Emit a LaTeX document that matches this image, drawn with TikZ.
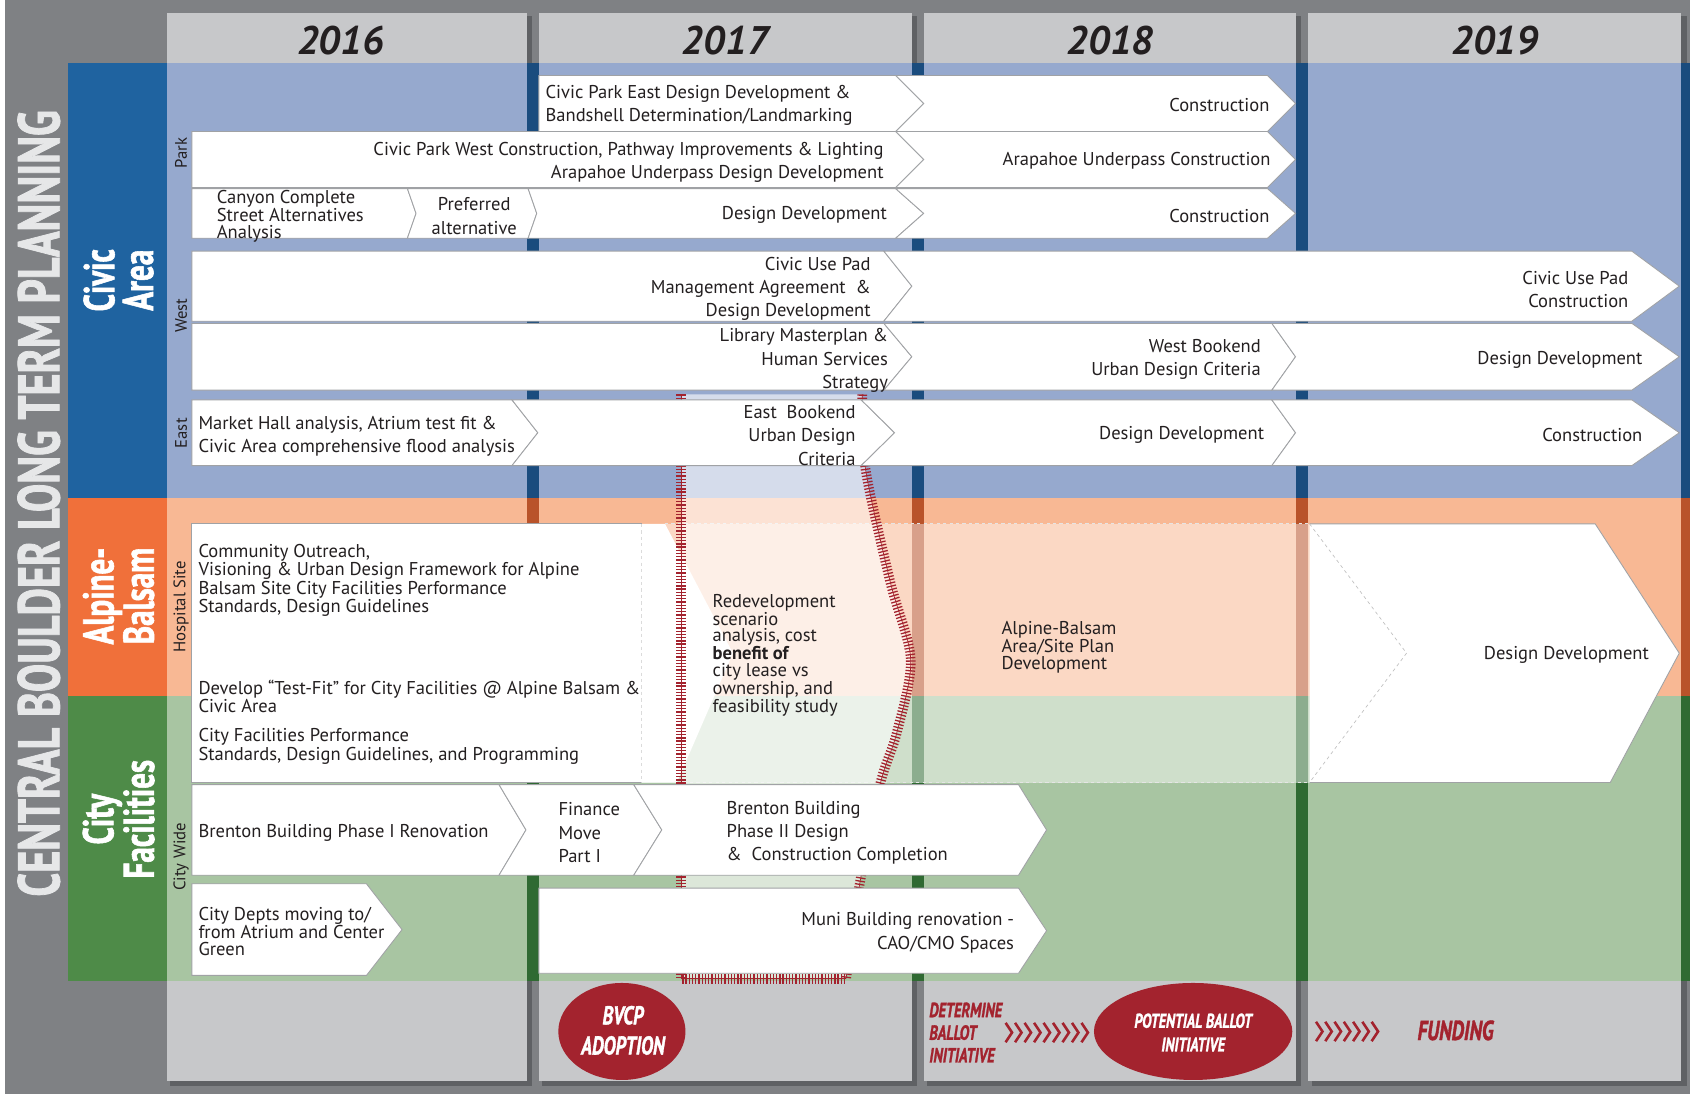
\documentclass[tikz,border=0pt]{standalone}
\usepackage{graphicx}
\usepackage{fontspec}
\setmainfont{PT Sans}
\newfontfamily\heavyfont{PT Sans}[UprightFont={* Bold}, ItalicFont={* Bold Italic}, FakeStretch=0.72, FakeBold=1.3]

\definecolor{outergray}{HTML}{7F8184}
\definecolor{shadowgray}{HTML}{5F6164}
\definecolor{headgray}{HTML}{C7C8CA}
\definecolor{civicdark}{HTML}{1F63A0}
\definecolor{civictint}{HTML}{96A9CE}
\definecolor{civicbar}{HTML}{1A4C7E}
\definecolor{alpdark}{HTML}{F0703A}
\definecolor{alptint}{HTML}{F8B894}
\definecolor{alpbar}{HTML}{B9532A}
\definecolor{citydark}{HTML}{4E8B48}
\definecolor{citytint}{HTML}{A8C5A2}
\definecolor{citybar}{HTML}{2F6A32}
\definecolor{trackred}{HTML}{A3232E}
\definecolor{boxedge}{HTML}{A0A2A5}
\definecolor{ink}{HTML}{231F20}
\definecolor{titlegray}{HTML}{E6E7E8}

\tikzset{
  boxline/.style={fill=white, draw=boxedge, line width=0.8pt, line join=miter},
  txt/.style={text=ink, font=\fontsize{17.2}{21.5}\selectfont, inner sep=0pt, yshift=-1.5pt},
  tight/.style={text=ink, font=\fontsize{17.2}{15.5}\selectfont, inner sep=0pt, align=left, yshift=-1.5pt},
  sublabel/.style={rotate=90, text=ink, font=\fontsize{15.5}{16}\selectfont, inner sep=0pt},
  region/.style={rotate=90, text=white, font=\heavyfont\fontsize{40}{36}\selectfont, align=center, inner sep=0pt},
  year/.style={text=ink, font=\bfseries\itshape\fontsize{37}{40}\selectfont, inner sep=0pt},
  foot/.style={text=trackred, font=\heavyfont\itshape\fontsize{19}{21}\selectfont, inner sep=0pt, align=left},
  ovaltext/.style={text=white, inner sep=0pt, align=center},
  trackticks/.style={draw=trackred, line width=9pt, dash pattern=on 1.2pt off 1.8pt},
  trackrail/.style={draw=trackred, line width=0.6pt},
  chevmark/.style={draw=trackred, line width=2.4pt}
}

% arrow-shaped bar with a flat left end
\newcommand{\flatbox}[5]{%
  \pgfmathsetmacro\boxmid{(#3+#4)/2}%
  \pgfmathsetmacro\boxtip{#2+#5}%
  \filldraw[boxline] (#1,#3) -- (#2,#3) -- (\boxtip,\boxmid) -- (#2,#4) -- (#1,#4) -- cycle;}
% arrow-shaped bar with a notched left end
\newcommand{\notchbox}[6]{%
  \pgfmathsetmacro\boxmid{(#3+#4)/2}%
  \pgfmathsetmacro\boxtip{#2+#6}%
  \pgfmathsetmacro\boxnotch{#1+#5}%
  \filldraw[boxline] (#1,#3) -- (#2,#3) -- (\boxtip,\boxmid) -- (#2,#4) -- (#1,#4) -- (\boxnotch,\boxmid) -- cycle;}

\begin{document}
\begin{tikzpicture}[x=1pt,y=-1pt]
\useasboundingbox (0,0) rectangle (1568,1015);
\fill[white] (0,0) rectangle (1568,1015);
\fill[outergray] (5,0) rectangle (1568,1015);

% year columns
\foreach \a/\b in {155/489, 500/846, 857/1202, 1214/1560} {
  \fill[shadowgray] (\a+3,15) rectangle (\b+5,1008);
  \fill[headgray] (\a,12) rectangle (\b,1003);
}

% topic bands
\fill[civictint] (155,58) rectangle (1568,462);
\fill[alptint] (155,462) rectangle (1568,646);
\fill[citytint] (155,646) rectangle (1568,910);
\foreach \a/\b in {489/500, 846/857, 1202/1214, 1560/1568} {
  \fill[civicbar] (\a,58) rectangle (\b,462);
  \fill[alpbar] (\a,462) rectangle (\b,646);
  \fill[citybar] (\a,646) rectangle (\b,910);
}
\fill[civicdark] (63,58) rectangle (155,462);
\fill[alpdark] (63,462) rectangle (155,646);
\fill[citydark] (63,646) rectangle (155,910);

% headings
\node[rotate=90, text=titlegray, font=\heavyfont\fontsize{54.5}{55}\selectfont, inner sep=0pt] (title) at (36,467) {CENTRAL BOULDER LONG TERM PLANNING};
\node[region] (civic) at (110,260) {Civic\\Area};
\node[region] (alpine) at (110,553) {Alpine-\\Balsam};
\node[region] (cityfac) at (110,760) {City\\Facilities};
\node[year] (y16) at (316,38) {2016};
\node[year] (y17) at (673,38) {2017};
\node[year] (y18) at (1030,38) {2018};
\node[year] (y19) at (1387,38) {2019};
\node[sublabel] (park) at (168,142) {Park};
\node[sublabel] (west) at (168,293) {West};
\node[sublabel] (east) at (168,402) {East};
\node[sublabel] (hosp) at (168,563) {Hospital Site};
\node[sublabel] (wide) at (168,795) {City Wide};

% Alpine-Balsam / City Facilities block
\fill[white] (178,486) rectangle (596,726);
\fill[white] (595,486) -- (617,486) -- (680,606) -- (628,726) -- (595,726) -- cycle;
\draw[boxedge, line width=0.8pt] (596,486) -- (178,486) -- (178,726) -- (596,726);
\draw[black!25, dashed, line width=0.6pt] (595,486) -- (595,726);
\fill[white, opacity=0.45] (595,486) rectangle (1215,726);
\draw[white!80!gray, dashed, line width=0.7pt] (617,486) -- (1215,486);
\draw[white!80!gray, dashed, line width=0.7pt] (628,726) -- (1215,726);

% redevelopment study corridor
\fill[white, fill opacity=0.6] (632,366) -- (632,908) -- (785,908) -- plot[smooth] coordinates {(785,908) (798,818) (817,726) (832,680) (845,612) (826,540) (803,435) (800,366)} -- cycle;
\draw[trackticks] (632,366) -- (632,908) -- (785,908);
\draw[trackrail] (632,366) -- (632,908) -- (785,908);
\draw[trackticks] plot[smooth] coordinates {(800,366) (803,435) (826,540) (845,612) (832,680) (817,726) (798,818) (785,908)};
\draw[trackrail] plot[smooth] coordinates {(800,366) (803,435) (826,540) (845,612) (832,680) (817,726) (798,818) (785,908)};

% 2019 design development
\filldraw[boxline] (1215,486) -- (1480,486) -- (1558,606) -- (1494,726) -- (1215,726);
\draw[black!25, dashed, line width=0.6pt] (1215,486) -- (1305,606) -- (1215,726);

% Civic Area bars
\flatbox{500}{831}{70}{122}{26}
\notchbox{831}{1176}{70}{122}{26}{26}
\flatbox{178}{831}{122}{174}{26}
\notchbox{831}{1176}{122}{174}{26}{26}
\flatbox{178}{378}{175}{221}{8}
\notchbox{378}{490}{175}{221}{8}{8}
\notchbox{490}{831}{175}{221}{8}{26}
\notchbox{831}{1176}{175}{221}{26}{26}
\flatbox{178}{820}{233}{298}{26}
\notchbox{820}{1514}{233}{298}{26}{44}
\flatbox{178}{820}{300}{362}{26}
\notchbox{820}{1180}{300}{362}{26}{22}
\notchbox{1180}{1514}{300}{362}{22}{44}
\flatbox{178}{475}{371}{432}{24}
\notchbox{475}{799}{371}{432}{24}{31}
\notchbox{799}{1180}{371}{432}{31}{22}
\notchbox{1180}{1514}{371}{432}{22}{44}

% City Wide bars
\flatbox{178}{463}{728}{812}{25}
\notchbox{463}{588}{728}{812}{25}{26}
\notchbox{588}{945}{728}{812}{26}{26}
\flatbox{178}{340}{820}{905}{33}
\flatbox{500}{945}{824}{903}{26}

% bar labels
\node[txt, anchor=west, align=left] (cpe) at (506,96.5) {Civic Park East Design Development \&\\Bandshell Determination/Landmarking};
\node[txt, anchor=east] (con1) at (1178,96) {Construction};
\node[txt, anchor=east, align=right] (cpw) at (820,149) {Civic Park West Construction, Pathway Improvements \& Lighting\\Arapahoe Underpass Design Development};
\node[txt, anchor=east] (auc) at (1179,148) {Arapahoe Underpass Construction};
\node[tight, anchor=west] (canyon) at (201,199) {Canyon Complete\\Street Alternatives\\Analysis};
\node[txt, align=center] (pref) at (440,199) {Preferred\\alternative};
\node[txt, anchor=east] (dd1) at (823,198) {Design Development};
\node[txt, anchor=east] (con2) at (1178,199) {Construction};
\node[txt, anchor=east, align=right] (cup) at (808,266.5) {Civic Use Pad\\Management Agreement \ \&\\Design Development};
\node[txt, anchor=east, align=right] (cupc) at (1511,267) {Civic Use Pad\\Construction};
\node[txt, anchor=east, align=right] (lib) at (824,333) {Library Masterplan \&\\Human Services\\Strategy};
\node[txt, anchor=east, align=right] (wbk) at (1170,332) {West Bookend\\Urban Design Criteria};
\node[txt, anchor=east] (dd2) at (1524,332) {Design Development};
\node[txt, anchor=west, align=left] (mkt) at (184,403.5) {Market Hall analysis, Atrium test fit \&\\Civic Area comprehensive flood analysis};
\node[txt, anchor=east, align=right] (ebk) at (794,402.5) {East \ Bookend\\Urban Design\\Criteria};
\node[txt, anchor=east] (dd3) at (1173,402) {Design Development};
\node[txt, anchor=east] (con3) at (1524,402) {Construction};

\node[tight, anchor=west] (outreach) at (184,537) {Community Outreach,\\Visioning \& Urban Design Framework for Alpine\\Balsam Site City Facilities Performance\\Standards, Design Guidelines};
\node[tight, anchor=west] (testfit) at (184,645) {Develop “Test-Fit” for City Facilities @ Alpine Balsam \&\\Civic Area};
\node[tight, anchor=west] (perf) at (184,691) {City Facilities Performance\\Standards, Design Guidelines, and Programming};
\node[tight, anchor=west] (redev) at (661,606.5) {Redevelopment\\scenario\\analysis, cost\\\textbf{benefit of}\\city lease vs\\ownership, and\\feasibility study};
\node[tight, anchor=west] (absite) at (929,599) {Alpine-Balsam\\Area/Site Plan\\Development};
\node[txt, anchor=east] (dd4) at (1530,606) {Design Development};

\node[txt, anchor=west] (bren1) at (184,771) {Brenton Building Phase I Renovation};
\node[txt, anchor=west, align=left] (fin) at (518,771) {Finance\\Move\\Part I};
\node[txt, anchor=west, align=left] (bren2) at (674,771) {Brenton Building\\Phase II Design\\\& \ Construction Completion};
\node[tight, anchor=west] (depts) at (184,862.5) {City Depts moving to/\\from Atrium and Center\\Green};
\node[txt, anchor=east, align=right] (muni) at (941,864) {Muni Building renovation -\\CAO/CMO Spaces};

% funding milestones
\fill[trackred] (577,957) ellipse [x radius=59, y radius=45];
\node[ovaltext, font=\heavyfont\itshape\fontsize{24}{28}\selectfont] (bvcp) at (578,956) {BVCP\\ADOPTION};
\node[foot] (determine) at (896,958) {DETERMINE\\BALLOT\\INITIATIVE};
\foreach \i in {0,...,8} \draw[chevmark] ({933+8.8*\i},949) -- ++(6,9) -- ++(-6,9);
\fill[trackred] (1107,957) ellipse [x radius=92, y radius=45];
\node[ovaltext, font=\heavyfont\itshape\fontsize{18.5}{22}\selectfont] (potential) at (1107,958) {POTENTIAL BALLOT\\INITIATIVE};
\foreach \i in {0,...,6} \draw[chevmark] ({1221+8.6*\i},948) -- ++(6,9) -- ++(-6,9);
\node[foot, font=\heavyfont\itshape\fontsize{25.5}{27}\selectfont, anchor=west] (funding) at (1315,956) {FUNDING};
\end{tikzpicture}
\end{document}
